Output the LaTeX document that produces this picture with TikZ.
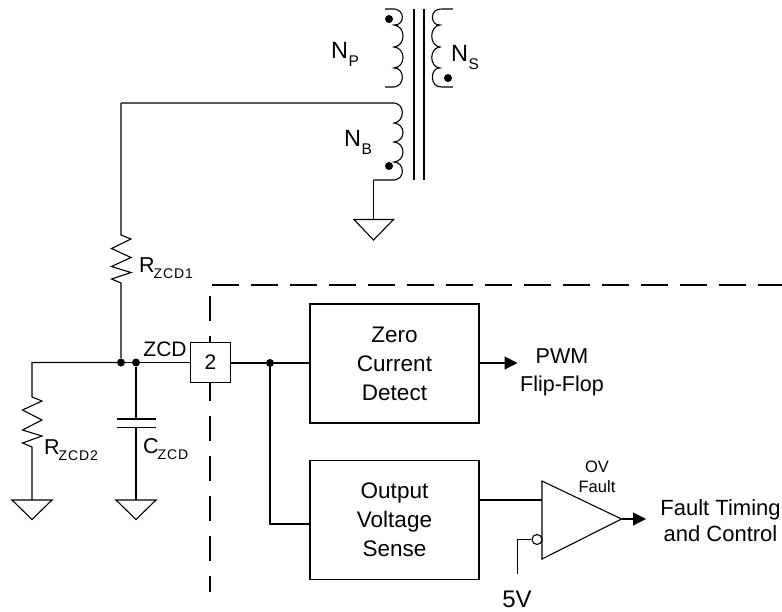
\documentclass[tikz,border=0pt]{standalone}
\usepackage{fontspec}
\setmainfont{Liberation Sans}
\usetikzlibrary{arrows.meta}
\newcommand\coilR[6]{(#1-9,#2) -- (#1-2,#2) .. controls (#1+12,#2-1) and (#1+11,#3+1) .. (#1,#3)
 .. controls (#1+12,#3+1) and (#1+12,#4-1) .. (#1,#4)
 .. controls (#1+12,#4+1) and (#1+12,#5-1) .. (#1,#5)
 .. controls (#1+11,#5-1) and (#1+12,#6+1) .. (#1-2,#6) -- (#1-9,#6)}
\newcommand\coilL[6]{(#1+13,#2) -- (#1+2,#2) .. controls (#1-11,#2-1) and (#1-10,#3+1) .. (#1,#3)
 .. controls (#1-11,#3+1) and (#1-11,#4-1) .. (#1,#4)
 .. controls (#1-11,#4+1) and (#1-11,#5-1) .. (#1,#5)
 .. controls (#1-10,#5-1) and (#1-11,#6+1) .. (#1+2,#6) -- (#1+13,#6)}
\newcommand\lbl[2]{#1\raisebox{-6pt}{\kern-1pt\fontsize{14}{14}\selectfont\addfontfeatures{LetterSpace=6}#2}}
\newcommand\lblN[2]{#1\raisebox{-8.5pt}{\kern0.5pt\fontsize{15.5}{15.5}\selectfont #2}}
\tikzset{
  wire/.style={line width=1.1pt,line join=miter},
  borderh/.style={line width=2.8pt,dash pattern=on 27pt off 12pt},
  borderv/.style={line width=2.8pt,dash pattern=on 25pt off 15pt},
  blockbox/.style={draw,line width=1.1pt,minimum width=169pt,minimum height=119pt,inner sep=0pt,align=center,font=\fontsize{22.5}{29}\selectfont},
  pinbox/.style={draw,fill=white,line width=1.1pt,minimum width=40pt,minimum height=40pt,inner sep=0pt,font=\fontsize{21}{24}\selectfont},
  txt/.style={inner sep=0pt,align=center,font=\fontsize{21.5}{28.5}\selectfont},
  smalltxt/.style={inner sep=0pt,align=center,font=\fontsize{16.5}{20}\selectfont},
  dotmark/.style={circle,fill=black,inner sep=0pt,minimum size=8pt},
  sublabel/.style={inner sep=0pt,anchor=base west,font=\fontsize{21.5}{24}\selectfont},
  winding/.style={inner sep=0pt,anchor=base west,font=\fontsize{23.5}{24}\selectfont},
  outarrow/.style={wire,-{Triangle[length=13pt,width=13pt]}},
}
\begin{document}
\begin{tikzpicture}[x=1pt,y=-1pt]
\useasboundingbox (0,0) rectangle (782,611);
\fill[white] (0,0) rectangle (782,611);
% boundary
\coordinate (bt) at (212,285);
\coordinate (br) at (782,285);
\coordinate (bb) at (210,592);
\coordinate (bv) at (210,296);
\draw[borderh] (bt) -- (br);
\draw[borderv] (bv) -- (bb);
% transformer
\draw[wire] \coilR{394}{9}{25}{47}{68}{87};
\draw[wire] \coilL{440}{9}{25}{47}{68}{87};
\draw[wire] (414,9) -- (414,180);
\draw[wire] (424,9) -- (424,180);
\node[dotmark] (dp) at (389,19) {};
\node[dotmark] (ds) at (448,78) {};
\node[dotmark] (db) at (389,166) {};
\coordinate (ntop) at (121,103);
\coordinate (nbot) at (373.5,180);
\draw[wire] (ntop) -- (392,103) .. controls (406,102) and (405,122) .. (394,123)
 .. controls (406,124) and (406,141) .. (394,142)
 .. controls (406,143) and (406,161) .. (394,162)
 .. controls (405,162) and (406,181) .. (392,180) -- (nbot);
\node[winding] (np) at (331,58) {\lblN{N}{P}};
\node[winding] (ns) at (451,61) {\lblN{N}{S}};
\node[winding] (nb) at (344,146) {\lblN{N}{B}};
% grounds
\coordinate (g1) at (373.5,219.5);
\draw[wire] (nbot) -- (g1);
\draw[wire] (354,219.5) -- (393.5,219.5) -- (373.5,240) -- cycle;
\coordinate (g2) at (32,500);
\coordinate (g3) at (136,500);
\draw[wire] (12,500) -- (52,500) -- (32,519.5) -- cycle;
\draw[wire] (116,500) -- (156,500) -- (136,519.5) -- cycle;
% junctions
\node[dotmark] (j1) at (121,362.5) {};
\node[dotmark] (j2) at (136,362.5) {};
\node[dotmark] (j3) at (270,363) {};
% R1
\draw[wire] (ntop) -- (121,235) -- (131,239) -- (111.5,248.5) -- (131,257.5) -- (111.5,266.5) -- (131,272.5) -- (111.5,279) -- (121,283) -- (j1);
\node[sublabel] (r1) at (139,272) {\lbl{R}{ZCD1}};
% R2
\coordinate (lft) at (32,362.5);
\draw[wire] (j1) -- (lft) -- (32,397) -- (42,401) -- (22.5,410) -- (42,420) -- (22.5,430) -- (42,436) -- (22.5,443) -- (32,447) -- (g2);
\node[sublabel] (r2) at (44,454) {\lbl{R}{ZCD2}};
% C
\draw[wire] (j2) -- (136,419);
\draw[wire] (117,419) -- (156,419);
\draw[wire] (117,427.5) -- (156,427.5);
\draw[wire] (136,427.5) -- (g3);
\node[sublabel] (cz) at (143,453) {\lbl{C}{ZCD}};
% pin
\node[pinbox] (pin) at (210.5,362.5) {2};
\draw[wire] (j1) -- (j2) -- (pin.west |- j2);
\draw[wire] (pin.east |- j3) -- (j3);
\node[txt,font=\fontsize{21}{24}\selectfont] (zcd) at (165,349) {ZCD};
% blocks
\node[blockbox] (zc) at (394.5,363.5) {Zero\\Current\\Detect};
\node[blockbox] (ov) at (394.5,520) {Output\\Voltage\\Sense};
\draw[wire] (j3) -- (zc.west |- j3);
\draw[wire] (j3) -- (270,524) -- (ov.west |- 0,524);
\coordinate (pwmtip) at (517.5,363);
\draw[outarrow] (zc.east |- pwmtip) -- (pwmtip);
\node[txt] (pwm) at (562,372.5) {PWM\\Flip-Flop};
% comparator
\coordinate (ca) at (542,481);
\coordinate (cb) at (542,559);
\coordinate (cc) at (621.5,519);
\draw[wire] (ca) -- (cb) -- (cc) -- cycle;
\draw[wire] (ov.east |- 0,500) -- (542,500);
\node[circle,draw,line width=1.1pt,fill=white,inner sep=0pt,minimum size=10pt] (bub) at (537,539.5) {};
\coordinate (fv) at (517.5,574);
\draw[wire] (fv) -- (517.5,539.5) -- (bub.west);
\coordinate (ftip) at (646,519);
\draw[outarrow] (cc) -- (ftip);
\node[txt,font=\fontsize{24}{24}\selectfont] (five) at (517,599) {5V};
\node[smalltxt] (ovf) at (597,477) {OV\\Fault};
\node[txt,font=\fontsize{22}{26}\selectfont] (ftc) at (720.5,521) {Fault Timing\\and Control};
\end{tikzpicture}
\end{document}
